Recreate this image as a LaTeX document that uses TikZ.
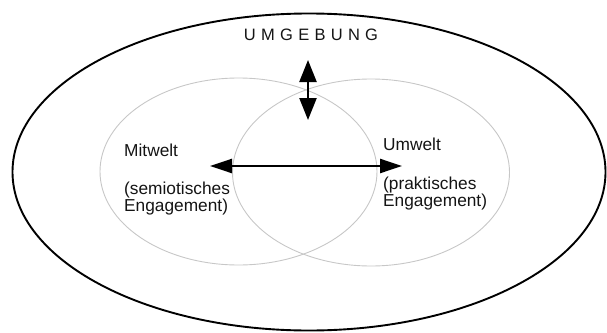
\documentclass[tikz,border=0pt]{standalone}
\usepackage{fontspec}
\setmainfont{Liberation Sans}
\newfontfamily\spacedfont[LetterSpace=32]{Liberation Sans}
\usetikzlibrary{arrows.meta, shapes.geometric, positioning}

\begin{document}
\begin{tikzpicture}[
					x=1pt, y=-1pt,
					ring/.style={ellipse, draw=black, line width=1.9pt, inner sep=0pt},
					world/.style={ellipse, draw=black!22, line width=0.9pt, inner sep=0pt,
						minimum width=277pt, minimum height=187pt},
					label/.style={anchor=base west, inner sep=0pt, text=black!92,
						font=\fontsize{17.3}{17}\selectfont, align=left},
					twoway/.style={{Triangle[length=22pt,width=#1]}-{Triangle[length=22pt,width=#1]},
						line width=2.4pt}
				]
				\useasboundingbox (0,0) rectangle (607,332);
				\node [ring, minimum width=593pt, minimum height=317pt] (umgebung) at (309,172) {};
				\node [world] (mit) at (238.5,171.5) {};
				\node [world] (um) at (371,172.5) {};
				\node [inner sep=0pt, text=black!92, font=\spacedfont\fontsize{16.5}{16.5}\selectfont]
					(titel) at (311,35) {UMGEBUNG};
				\node [label] (mitname) at (124,156) {Mitwelt};
				\node [label] (mitart) at (124,211) {(semiotisches\\Engagement)};
				\node [label] (umname) at (383,150) {Umwelt};
				\node [label] (umart) at (383,206) {(praktisches\\Engagement)};
				\coordinate (oben) at (308,60);
				\coordinate (unten) at (308,120);
				\coordinate (links) at (210,166);
				\coordinate (rechts) at (402,166);
				\draw [twoway=17pt] (oben) -- (unten);
				\draw [twoway=14pt] (links) -- (rechts);
			\end{tikzpicture}
\end{document}
